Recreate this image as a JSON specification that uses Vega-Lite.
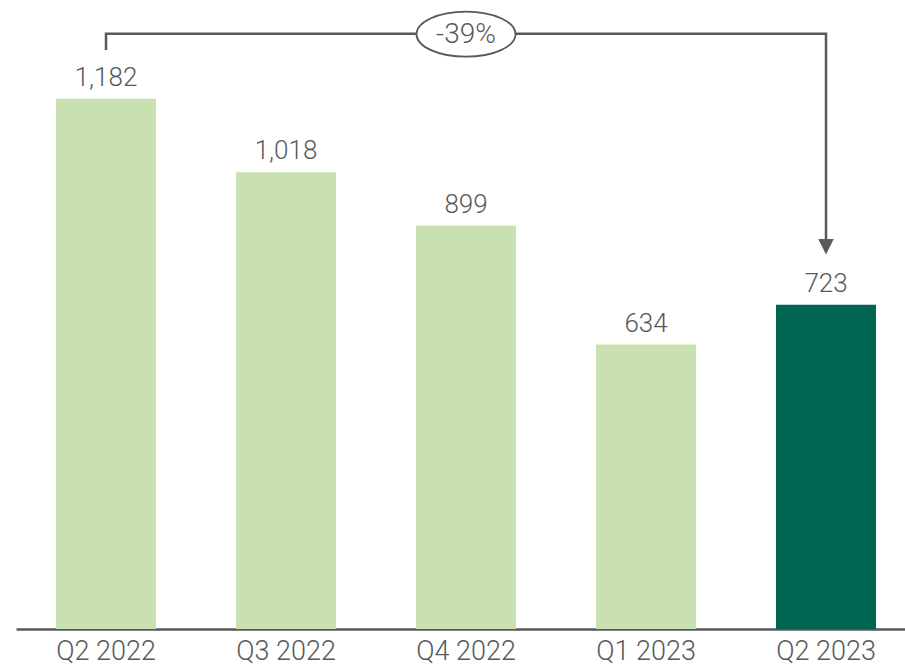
{
  "$schema": "https://vega.github.io/schema/vega-lite/v6.json",
  "autosize": "none",
  "width": 900,
  "height": 628,
  "padding": {"left": 16, "top": 1, "right": 0, "bottom": 41},
  "background": "white",
  "config": {"view": {"stroke": null}, "font": "Roboto"},
  "datasets": {
    "bars": [
      {"q": "Q2 2022", "v": 1182, "label": "1,182", "hl": "no"},
      {"q": "Q3 2022", "v": 1018, "label": "1,018", "hl": "no"},
      {"q": "Q4 2022", "v": 899, "label": "899", "hl": "no"},
      {"q": "Q1 2023", "v": 634, "label": "634", "hl": "no"},
      {"q": "Q2 2023", "v": 723, "label": "723", "hl": "yes"}
    ],
    "bracket": [
      {"q": "Q2 2022", "v": 1291, "o": 1},
      {"q": "Q2 2022", "v": 1327, "o": 2},
      {"q": "Q2 2023", "v": 1327, "o": 3},
      {"q": "Q2 2023", "v": 860, "o": 4}
    ],
    "arrow": [{"q": "Q2 2023", "v": 852}],
    "badge": [{"q": "Q4 2022", "v": 1326, "t": "-39%"}]
  },
  "encoding": {
    "x": {
      "field": "q", "type": "nominal", "sort": ["Q2 2022", "Q3 2022", "Q4 2022", "Q1 2023", "Q2 2023"],
      "scale": {"paddingInner": 0.4444, "paddingOuter": 0.2222},
      "axis": {
        "title": null, "ticks": false, "labelAngle": 0, "labelFontSize": 27,
        "labelFontWeight": 300, "labelColor": "#58595b", "labelPadding": 9,
        "domainColor": "#58595b", "domainWidth": 2.5, "grid": false
      }
    },
    "y": {
      "field": "v", "type": "quantitative",
      "scale": {"domain": [0, 1400], "nice": false},
      "axis": null
    }
  },
  "layer": [
    {
      "data": {"name": "bars"},
      "mark": {"type": "bar", "width": 100},
      "encoding": {
        "color": {
          "field": "hl", "type": "nominal",
          "scale": {"domain": ["no", "yes"], "range": ["#c9e0b0", "#006652"]},
          "legend": null
        }
      }
    },
    {
      "data": {"name": "bars"},
      "mark": {"type": "text", "dy": -13, "baseline": "alphabetic", "fontSize": 26, "fontWeight": 300, "color": "#58595b"},
      "encoding": {
        "text": {"field": "label"}
      }
    },
    {
      "data": {"name": "bracket"},
      "mark": {"type": "line", "color": "#58595b", "strokeWidth": 2.5, "interpolate": "linear"},
      "encoding": {
        "order": {"field": "o"}
      }
    },
    {
      "data": {"name": "arrow"},
      "mark": {"type": "point", "shape": "M-1,-1L1,-1L0,1Z", "size": 240, "filled": true, "color": "#58595b", "opacity": 1},
      "encoding": {}
    },
    {
      "data": {"name": "badge"},
      "mark": {"type": "point", "shape": "M-1,0C-1,-0.2513,-0.5523,-0.455,0,-0.455C0.5523,-0.455,1,-0.2513,1,0C1,0.2513,0.5523,0.455,0,0.455C-0.5523,0.455,-1,0.2513,-1,0Z", "size": 9801, "fill": "white", "stroke": "#58595b", "strokeWidth": 1.8, "opacity": 1, "fillOpacity": 1},
      "encoding": {}
    },
    {
      "data": {"name": "badge"},
      "mark": {"type": "text", "baseline": "middle", "align": "center", "fontSize": 28, "fontWeight": 300, "color": "#58595b", "dy": 1},
      "encoding": {
        "text": {"field": "t"}
      }
    }
  ]
}
